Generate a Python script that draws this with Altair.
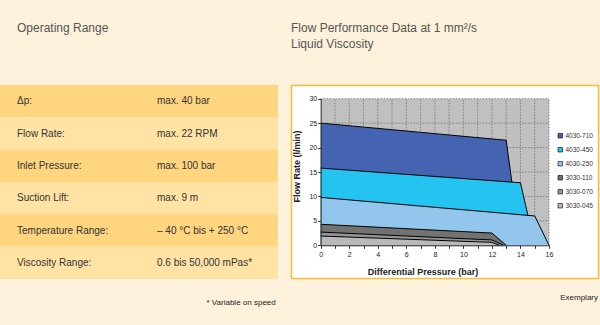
import altair as alt
import pandas as pd

# ---------------- data ----------------
param_labels = ["Δp:", "Flow Rate:", "Inlet Pressure:", "Suction Lift:",
                "Temperature Range:", "Viscosity Range:"]
param_values = ["max. 40 bar", "max. 22 RPM", "max. 100 bar", "max. 9 m",
                "– 40 °C bis + 250 °C", "0.6 bis 50,000 mPas*"]

series_names = ["4030-710", "4030-450", "4030-250", "3030-110", "3030-070", "3030-045"]

p_4030_710 = [0, 13, 14]
q_4030_710 = [25.0, 21.5, 0]
p_4030_450 = [0, 14, 15]
q_4030_450 = [15.8, 12.8, 0]
p_4030_250 = [0, 15, 16]
q_4030_250 = [9.8, 6.0, 0]
p_3030_110 = [0, 12, 13]
q_3030_110 = [4.3, 2.5, 0]
p_3030_070 = [0, 12, 12.8]
q_3030_070 = [2.7, 1.1, 0]
p_3030_045 = [0, 12, 12.5]
q_3030_045 = [1.9, 0.6, 0]

x_domain = [0, 16]
y_domain = [0, 30]
x_tick_values = list(range(0, 17))
y_tick_values = [0, 5, 10, 15, 20, 25, 30]

title_left = "Operating Range"
title_right_1 = "Flow Performance Data at 1 mm²/s"
title_right_2 = "Liquid Viscosity"
footnote = "* Variable on speed"
exemplary = "Exemplary"

# ---------------- styling ----------------
FONT = "Liberation Sans"
BG = "#FEF2DC"
ROW_DARK = "#FFD580"
ROW_LIGHT = "#FFE3A5"
series_colors = ["#4463B0", "#25C3F0", "#93C6EC", "#727272", "#959595", "#B9B9B9"]

W, H = 600, 325
X0, X1 = 320.7, 549.0
Y0, Y1 = 245.3, 98.7

series_points = [
    (series_names[0], p_4030_710, q_4030_710),
    (series_names[1], p_4030_450, q_4030_450),
    (series_names[2], p_4030_250, q_4030_250),
    (series_names[3], p_3030_110, q_3030_110),
    (series_names[4], p_3030_070, q_3030_070),
    (series_names[5], p_3030_045, q_3030_045),
]
long_rows = []
for name, ps, qs in series_points:
    for p, q in zip(ps, qs):
        long_rows.append({"series": name, "p": p, "q": q})
long_df = pd.DataFrame(long_rows)

xscale = alt.Scale(domain=x_domain, range=[X0, X1], nice=False, zero=False)
yscale = alt.Scale(domain=y_domain, range=[Y0, Y1], nice=False)

xaxis = alt.Axis(
    title="Differential Pressure (bar)", values=x_tick_values,
    labelExpr="datum.value % 2 == 0 ? datum.label : ''",
    offset=Y0 - H, grid=False, domainColor="#333", tickColor="#333",
    tickSize=3, labelFontSize=7, labelColor="#222", labelPadding=2,
    labelFlush=False, labelOverlap=False,
    titleFontSize=9, titleFontWeight="bold", titleColor="#222",
    titleX=422.5, titleY=26.5, titleBaseline="middle", titleAlign="center",
    zindex=1,
)
yaxis = alt.Axis(
    title="Flow Rate (l/min)", values=y_tick_values,
    offset=-X0, grid=False, domainColor="#333", tickColor="#333",
    tickSize=3, labelFontSize=7, labelColor="#222", labelPadding=1,
    labelFlush=False, labelOverlap=False,
    titleFontSize=9, titleFontWeight="bold", titleColor="#222",
    titleAngle=270, titleX=-24, titleY=166, titleBaseline="middle", titleAlign="center",
    zindex=1,
)
legend = alt.Legend(
    title=None, orient="none", legendX=557, legendY=132.5,
    symbolType="square", symbolSize=20, symbolStrokeColor="#000",
    symbolStrokeWidth=0.6, symbolOpacity=1, labelFontSize=6.5, labelColor="#333",
    labelFont=FONT, rowPadding=6, labelOffset=2, padding=0, zindex=1,
)
color_scale = alt.Scale(domain=series_names, range=series_colors)

# ---------------- decoration: chart box ----------------
box = alt.Chart(alt.Data(values=[{"k": 1}])).mark_rect(
    fill="white", stroke="#F6BD3A", strokeWidth=1.5
).encode(x=alt.value(291.5), x2=alt.value(598.5), y=alt.value(85.5), y2=alt.value(278.5))

# ---------------- table ----------------
table_df = pd.DataFrame({"row": list(range(len(param_labels))),
                         "label": param_labels, "value": param_values})
rowscale = alt.Scale(type="band", domain=list(range(len(param_labels))),
                     range=[85, 279], paddingInner=0, paddingOuter=0)
rows = alt.Chart(table_df).mark_rect().encode(
    y=alt.Y("row:O", scale=rowscale, axis=None),
    x=alt.value(0), x2=alt.value(278),
    fill=alt.condition("datum.row % 2 == 0", alt.value(ROW_DARK), alt.value(ROW_LIGHT)),
)
row_labels = alt.Chart(table_df).mark_text(
    align="left", baseline="middle", font=FONT, fontSize=10, color="#333"
).encode(y=alt.Y("row:O", scale=rowscale, axis=None), x=alt.value(17), text="label:N")
row_values = alt.Chart(table_df).mark_text(
    align="left", baseline="middle", font=FONT, fontSize=10, color="#333"
).encode(y=alt.Y("row:O", scale=rowscale, axis=None), x=alt.value(157), text="value:N")
table = alt.layer(rows, row_labels, row_values)

# ---------------- chart ----------------
bg_df = pd.DataFrame({"x0": [x_domain[0]], "x1": [x_domain[1]],
                      "y0": [y_domain[0]], "y1": [y_domain[1]]})
plot_bg = alt.Chart(bg_df).mark_rect(fill="#C0C0C0").encode(
    x=alt.X("x0:Q", scale=xscale, axis=xaxis), x2="x1:Q",
    y=alt.Y("y0:Q", scale=yscale, axis=yaxis), y2="y1:Q",
)
gx_df = pd.DataFrame({"gx": x_tick_values[1:], "g0": y_domain[0], "g1": y_domain[1]})
grid_v = alt.Chart(gx_df).mark_rule(color="#707070", strokeDash=[1.5, 1.5], strokeWidth=0.8).encode(
    x=alt.X("gx:Q", scale=xscale, axis=xaxis),
    y=alt.Y("g0:Q", scale=yscale, axis=yaxis), y2="g1:Q",
)
gy_df = pd.DataFrame({"gy": y_tick_values[1:], "g0": x_domain[0], "g1": x_domain[1]})
grid_h = alt.Chart(gy_df).mark_rule(color="#707070", strokeDash=[1.5, 1.5], strokeWidth=0.8).encode(
    y=alt.Y("gy:Q", scale=yscale, axis=yaxis),
    x=alt.X("g0:Q", scale=xscale, axis=xaxis), x2="g1:Q",
)
series_layers = []
for name in series_names:
    sub = long_df[long_df["series"] == name]
    series_layers.append(
        alt.Chart(sub).mark_area(opacity=1, interpolate="linear").encode(
            x=alt.X("p:Q", scale=xscale, axis=xaxis),
            y=alt.Y("q:Q", scale=yscale, axis=yaxis, stack=None),
            color=alt.Color("series:N", scale=color_scale, legend=legend),
        )
    )
    series_layers.append(
        alt.Chart(sub).mark_line(color="black", strokeWidth=1).encode(
            x=alt.X("p:Q", scale=xscale, axis=xaxis),
            y=alt.Y("q:Q", scale=yscale, axis=yaxis),
        )
    )
chart = alt.layer(plot_bg, grid_v, grid_h, *series_layers)

# ---------------- texts ----------------
def txt(s, x, y, size, color, align="left", weight="normal"):
    return alt.Chart(alt.Data(values=[{"t": s}])).mark_text(
        align=align, baseline="middle", font=FONT, fontSize=size, color=color, fontWeight=weight
    ).encode(x=alt.value(x), y=alt.value(y), text="t:N")

texts = alt.layer(
    txt(title_left, 17, 27.7, 12, "#555"),
    txt(title_right_1, 291, 27.7, 12, "#555"),
    txt(title_right_2, 291, 43.5, 12, "#555"),
    txt(footnote, 206.5, 302.5, 8, "#222"),
    txt(exemplary, 598, 297.5, 8, "#222", align="right"),
)

full = alt.layer(box, table, chart, texts).resolve_scale(
    x="independent", y="independent"
).properties(
    width=W, height=H, padding=0,
    autosize=alt.AutoSizeParams(type="none"), background=BG,
).configure(font=FONT).configure_view(stroke=None)

full.save("out.html", embed_options={"renderer": "svg", "actions": False})
